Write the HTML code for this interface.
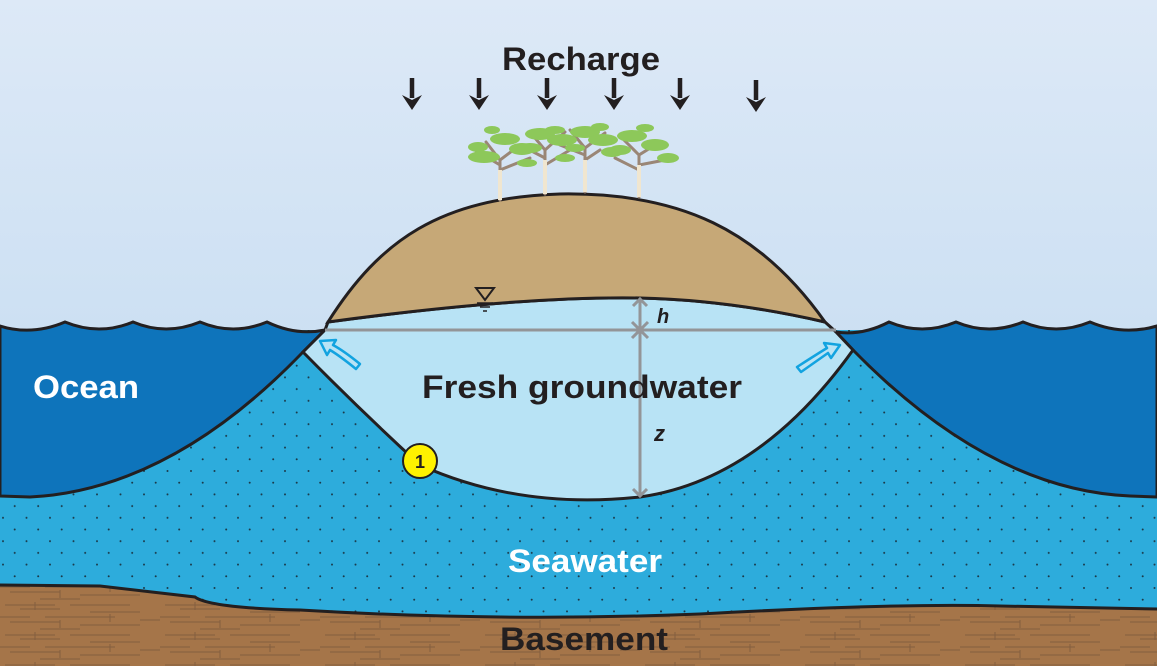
<!DOCTYPE html>
<html><head><meta charset="utf-8"><style>html,body{margin:0;padding:0;background:#fff}svg{display:block}</style></head><body>
<svg width="1157" height="666" viewBox="0 0 1157 666" xmlns="http://www.w3.org/2000/svg" font-family="Liberation Sans, sans-serif">
<defs>
<linearGradient id="sky" x1="0" y1="0" x2="0" y2="1"><stop offset="0" stop-color="#dde9f7"/><stop offset="1" stop-color="#bcd7ee"/></linearGradient>
<pattern id="dots" width="23.5" height="23.4" patternUnits="userSpaceOnUse"><circle cx="3" cy="3" r="1" fill="#1b3a4a"/><circle cx="14.7" cy="14.7" r="1" fill="#1b3a4a"/></pattern>
<pattern id="rock" width="160" height="30" patternUnits="userSpaceOnUse"><g stroke="#7a5a3c" stroke-width="1" fill="none"><path d="M5 5h50M70 5h60M20 9h40M90 12h50M0 17h30M45 17h70M10 22h50M80 25h60M140 20h20M40 29h40"/><path d="M35 2v8M110 14v8M60 20v8"/></g></pattern>
</defs>
<rect width="1157" height="666" fill="url(#sky)"/>
<rect x="0" y="330" width="1157" height="336" fill="#2dacdc"/>
<rect x="0" y="330" width="1157" height="336" fill="url(#dots)"/>
<path d="M0 326 Q32 336 65 322 Q99 336 133 322 Q166 336 200 322 Q233 336 267 322 Q296 336 325 330 L303 352 Q170 490 30 497 L0 496 Z" fill="#0e74bb" stroke="#231f20" stroke-width="3"/>
<path d="M1157 326 Q1123 336 1090 322 Q1056 336 1023 322 Q989 336 956 322 Q922 336 889 322 Q862 336 836 332 L853 350 Q990 490 1130 496 L1157 497 Z" fill="#0e74bb" stroke="#231f20" stroke-width="3"/>
<path d="M325 330 L303 352 Q360 410 420 465 Q520 510 640 497 Q760 480 853 350 L836 332 L825 322 Q730 300 640 298 Q520 296 328 322 Z" fill="#b8e3f5" stroke="#231f20" stroke-width="3"/>
<path d="M328 322 C380 240 440 198 560 194 C680 192 760 230 825 322 Q730 300 640 298 Q520 296 328 322 Z" fill="#c6a877" stroke="#231f20" stroke-width="3"/>
<path d="M0 585 L100 586 L195 597 Q210 608 300 610 Q500 622 700 614 Q900 603 1000 606 L1157 609 L1157 666 L0 666 Z" fill="#a57549"/>
<path d="M0 585 L100 586 L195 597 Q210 608 300 610 Q500 622 700 614 Q900 603 1000 606 L1157 609 L1157 666 L0 666 Z" fill="url(#rock)" opacity="0.8"/>
<path d="M0 585 L100 586 L195 597 Q210 608 300 610 Q500 622 700 614 Q900 603 1000 606 L1157 609" fill="none" stroke="#231f20" stroke-width="3"/>
<g stroke="#939598" stroke-width="3" fill="none">
<path d="M325 330 H836"/><path d="M640 300 V496"/>
<path d="M632 322 L648 338 M648 322 L632 338"/>
<path d="M633 306 L640 299 L647 306 M633 489 L640 496 L647 489"/>
</g>
<path d="M476 288 H494 L485 300 Z" fill="none" stroke="#231f20" stroke-width="2"/>
<path d="M477 303h16M480 307h10M483 311h4" stroke="#231f20" stroke-width="1.5"/>
<g fill="#b8e3f5" stroke="#12a3e0" stroke-width="2.5" stroke-linejoin="round">
<path d="M356 369 Q340 356 330 350 L327 355 L320 341 L336 340 L333 345 Q344 351 360 364 Z"/>
<path d="M801 372 Q818 360 828 353 L831 358 L840 345 L824 343 L827 348 Q814 356 797 367 Z"/>
</g>
<g>
<g stroke="#9a8676" stroke-width="3" fill="none" stroke-linecap="round">
<path d="M500 200 V160 L520 145 M500 160 L486 142 M500 165 L475 150 M500 170 L530 158"/>
<path d="M545 194 V150 L565 132 M545 150 L530 132 M545 158 L520 145 M545 165 L570 150"/>
<path d="M585 192 V148 L605 133 M585 148 L570 130 M585 155 L560 145 M585 160 L600 150"/>
<path d="M639 197 V155 L660 142 M639 155 L622 138 M639 165 L665 160 M639 170 L615 158"/>
</g>
<g fill="#f0e6d0"><rect x="498" y="170" width="4" height="30"/><rect x="543" y="160" width="4" height="34"/><rect x="583" y="160" width="4" height="32"/><rect x="637" y="165" width="4" height="32"/></g>
<g fill="#8dc85a">
<ellipse cx="484" cy="157" rx="16" ry="6"/><ellipse cx="505" cy="139" rx="15" ry="6"/><ellipse cx="522" cy="149" rx="13" ry="6"/><ellipse cx="478" cy="147" rx="10" ry="5"/><ellipse cx="527" cy="163" rx="10" ry="4"/><ellipse cx="492" cy="130" rx="8" ry="4"/>
<ellipse cx="540" cy="134" rx="15" ry="6"/><ellipse cx="530" cy="148" rx="12" ry="5"/><ellipse cx="562" cy="140" rx="15" ry="6"/><ellipse cx="555" cy="130" rx="10" ry="4"/><ellipse cx="565" cy="158" rx="10" ry="4"/>
<ellipse cx="585" cy="132" rx="15" ry="6"/><ellipse cx="603" cy="140" rx="15" ry="6"/><ellipse cx="575" cy="148" rx="10" ry="4"/><ellipse cx="612" cy="152" rx="11" ry="5"/><ellipse cx="600" cy="127" rx="9" ry="4"/>
<ellipse cx="632" cy="136" rx="15" ry="6"/><ellipse cx="655" cy="145" rx="14" ry="6"/><ellipse cx="620" cy="150" rx="11" ry="5"/><ellipse cx="668" cy="158" rx="11" ry="5"/><ellipse cx="645" cy="128" rx="9" ry="4"/>
</g>
</g>
<g stroke="#231f20" stroke-width="4.5" fill="#231f20">
<path d="M412 78V98M479 78V98M547 78V98M614 78V98M680 78V98M756 80V100" fill="none"/>
</g>
<g fill="#231f20">
<path d="M402 95L412 110L422 95L412 100Z"/><path d="M469 95L479 110L489 95L479 100Z"/><path d="M537 95L547 110L557 95L547 100Z"/><path d="M604 95L614 110L624 95L614 100Z"/><path d="M670 95L680 110L690 95L680 100Z"/><path d="M746 97L756 112L766 97L756 102Z"/>
</g>
<g font-weight="bold">
<text x="502" y="70" font-size="32" fill="#231f20" textLength="158" lengthAdjust="spacingAndGlyphs">Recharge</text>
<text x="33" y="398" font-size="32" fill="#fff" textLength="106" lengthAdjust="spacingAndGlyphs">Ocean</text>
<text x="422" y="398" font-size="32" fill="#231f20" textLength="320" lengthAdjust="spacingAndGlyphs">Fresh groundwater</text>
<text x="508" y="572" font-size="32" fill="#fff" textLength="154" lengthAdjust="spacingAndGlyphs">Seawater</text>
<text x="500" y="650" font-size="32" fill="#231f20" textLength="168" lengthAdjust="spacingAndGlyphs">Basement</text>
<text x="657" y="323" font-size="20" font-style="italic" fill="#231f20">h</text>
<text x="654" y="441" font-size="22" font-style="italic" fill="#231f20">z</text>
</g>
<circle cx="420" cy="461" r="17" fill="#fff200" stroke="#231f20" stroke-width="2"/>
<text x="420" y="468" font-size="18" font-weight="bold" text-anchor="middle" fill="#231f20">1</text>
</svg>
</body></html>
